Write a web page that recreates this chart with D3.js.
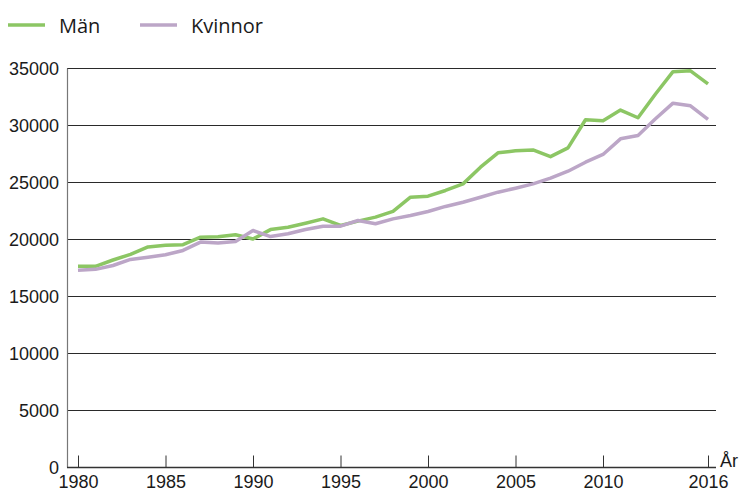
<!DOCTYPE html>
<html>
<head>
<meta charset="utf-8">
<script src="https://cdn.jsdelivr.net/npm/d3@7"></script>
<style>
  body { margin: 0; background: #fff; }
  svg text { font-family: "Liberation Sans", Arial, sans-serif; fill: #1a1a1a; }
  .legend text { font-family: "Open Sans", "DejaVu Sans", sans-serif; }
</style>
</head>
<body>
<div id="chart"></div>
<script>
const years = d3.range(1980, 2017);
const man = [17650, 17650, 18200, 18700, 19350, 19500, 19550, 20200, 20250, 20420, 20050,
  20870, 21080, 21430, 21810, 21230, 21610, 21960, 22460, 23710, 23800, 24300, 24880,
  26340, 27600, 27780, 27860, 27270, 28040, 30500, 30420, 31350, 30680, 32760, 34720,
  34800, 33650];
const kvinnor = [17300, 17380, 17720, 18250, 18450, 18660, 19040, 19770, 19690, 19830, 20790,
  20260, 20500, 20880, 21170, 21170, 21670, 21380, 21810, 22100, 22460, 22900, 23270,
  23710, 24150, 24500, 24880, 25380, 25990, 26780, 27460, 28830, 29120, 30590, 31960,
  31730, 30530];
const yTicks = [0, 5000, 10000, 15000, 20000, 25000, 30000, 35000];
const xTicks = [1980, 1985, 1990, 1995, 2000, 2005, 2010, 2016];
const series = [
  { name: "Män", values: man, color: "#8cc664" },
  { name: "Kvinnor", values: kvinnor, color: "#bca6c7" }
];

const width = 745, height = 497;
const svg = d3.select("#chart").append("svg")
  .attr("width", width).attr("height", height);

const x = d3.scaleLinear().domain([1980, 2016]).range([78, 708]);
const y = d3.scaleLinear().domain([0, 35000]).range([467.5, 68.5]);
const left = 67, right = 716;

// gridlines
svg.append("g")
  .selectAll("line")
  .data(yTicks.filter(d => d > 0))
  .join("line")
  .attr("x1", left).attr("x2", right)
  .attr("y1", d => y(d)).attr("y2", d => y(d))
  .attr("stroke", "#2a2a2a").attr("stroke-width", 1);

// y labels
svg.append("g")
  .selectAll("text")
  .data(yTicks)
  .join("text")
  .attr("x", 59)
  .attr("y", d => y(d))
  .attr("dy", "0.35em")
  .attr("text-anchor", "end")
  .attr("font-size", 18)
  .text(d => d);

// lines
const line = d3.line()
  .x((d, i) => x(years[i]))
  .y(d => y(d));

svg.append("g")
  .selectAll("path")
  .data(series)
  .join("path")
  .attr("d", d => line(d.values))
  .attr("fill", "none")
  .attr("stroke", d => d.color)
  .attr("stroke-width", 3.5)
  .attr("stroke-linejoin", "round");

// y axis line
svg.append("line")
  .attr("x1", left + 0.5).attr("x2", left + 0.5)
  .attr("y1", y(35000)).attr("y2", y(0))
  .attr("stroke", "#777").attr("stroke-width", 1.2);

// x axis
const xAxis = svg.append("g")
  .attr("transform", "translate(0," + y(0) + ")")
  .call(d3.axisBottom(x).tickValues(xTicks).tickFormat(d3.format("d")).tickSize(-12).tickPadding(0));
xAxis.select(".domain").attr("d", "M" + left + ",0H" + right).attr("stroke", "#333").attr("stroke-width", 1.5);
xAxis.selectAll(".tick line").attr("stroke", "#333");
xAxis.selectAll(".tick text")
  .attr("y", 20)
  .attr("dy", 0)
  .attr("font-size", 18)
  .attr("fill", "#1a1a1a")
  .style("font-family", "Liberation Sans, Arial, sans-serif");

svg.append("text")
  .attr("x", 720).attr("y", y(0) - 1)
  .attr("font-size", 18)
  .text("År");

// legend
const legend = svg.append("g").attr("class", "legend");
const lg = legend.selectAll("g")
  .data(series)
  .join("g")
  .attr("transform", (d, i) => "translate(" + (8 + i * 132) + ",25)");
lg.append("line")
  .attr("x1", 0).attr("x2", 37)
  .attr("stroke", d => d.color).attr("stroke-width", 3.5);
lg.append("text")
  .attr("x", 51).attr("y", 8)
  .attr("font-size", 20)
  .text(d => d.name);
</script>
</body>
</html>
